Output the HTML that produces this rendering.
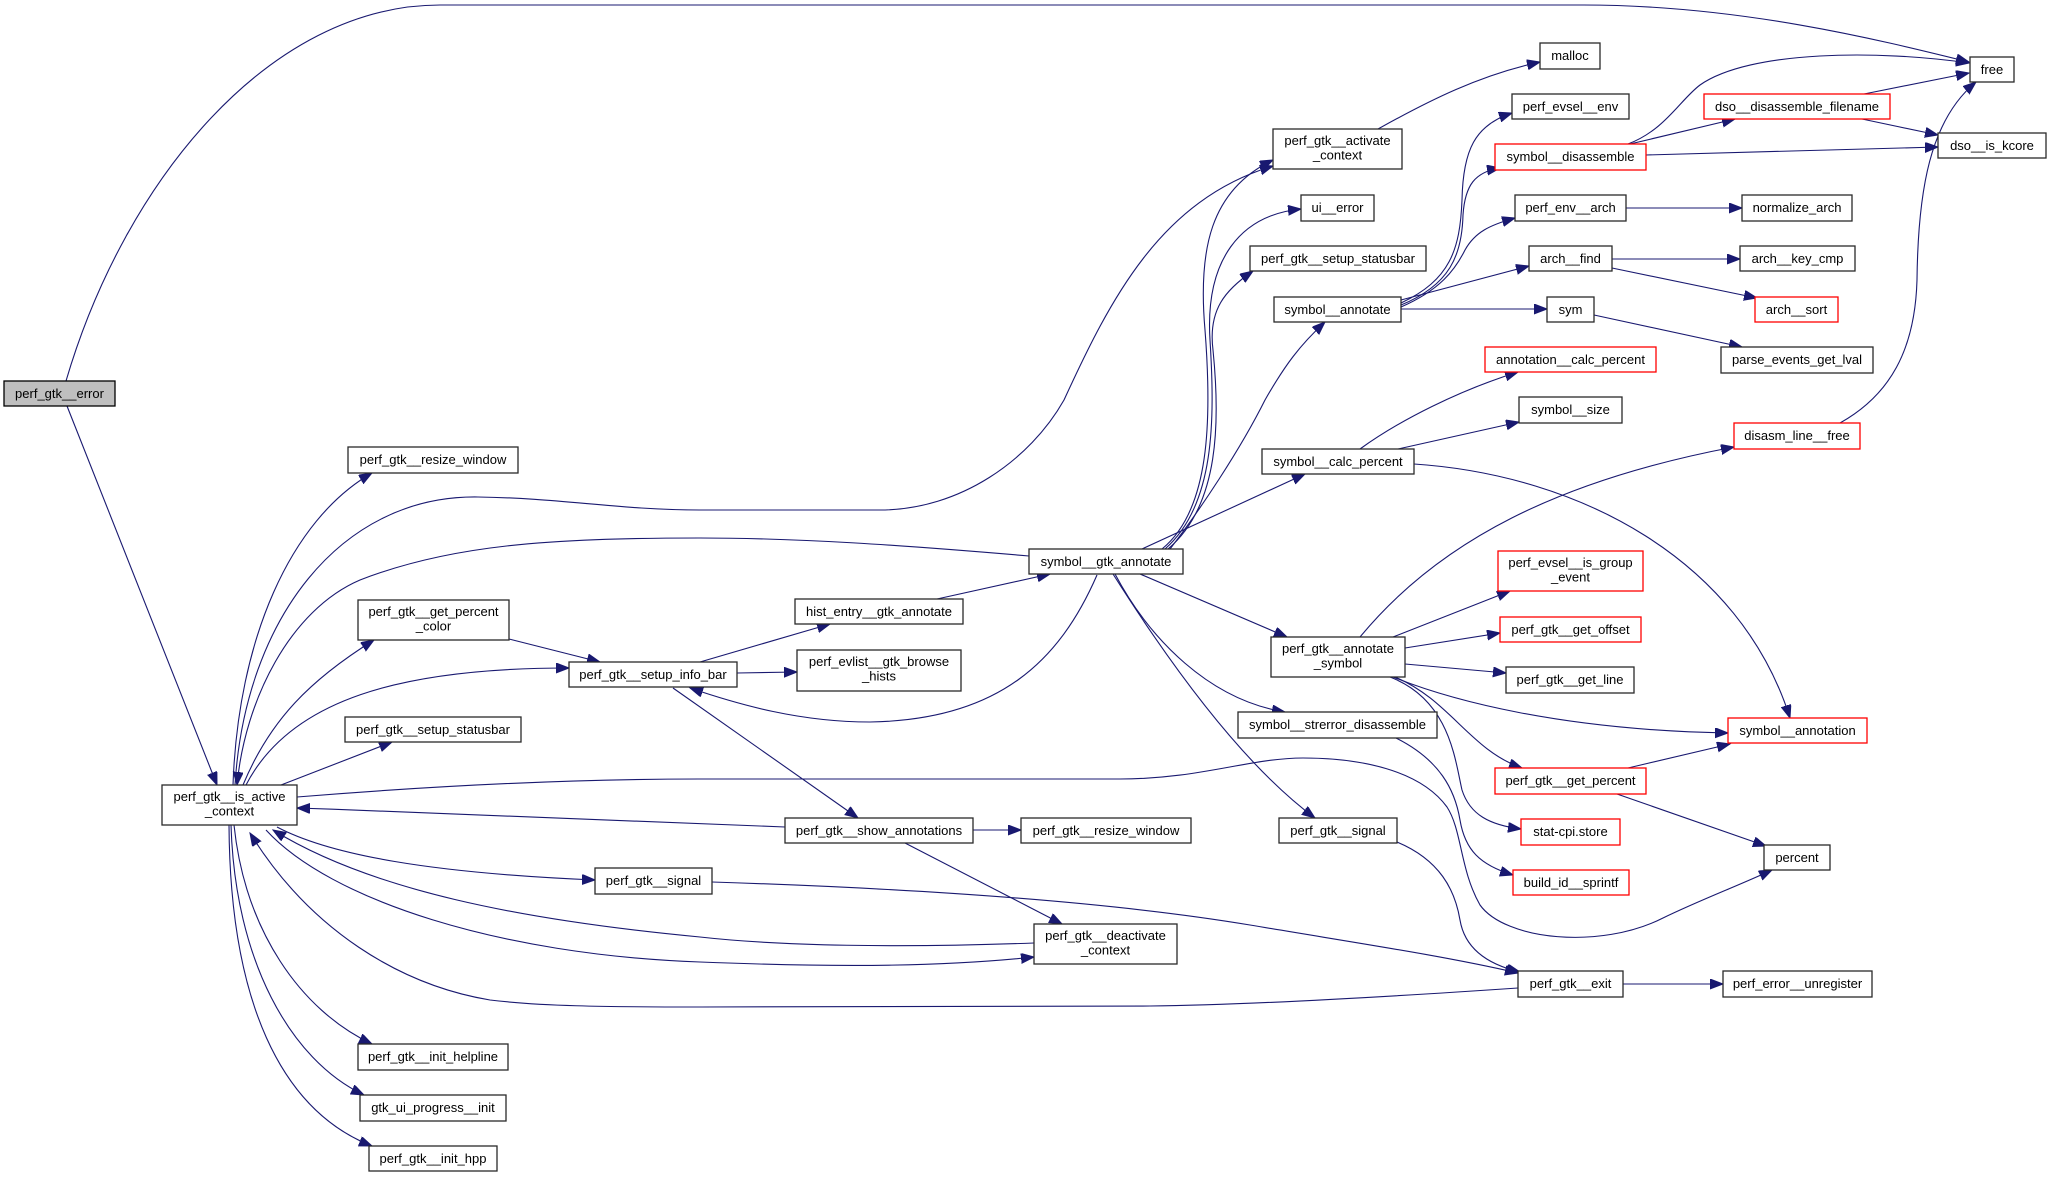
<!DOCTYPE html>
<html><head><meta charset="utf-8"><style>
html,body{margin:0;padding:0;background:#fff;}
svg{display:block;}
text{font-family:"Liberation Sans",Helvetica,Arial,sans-serif;font-size:13px;fill:#000;text-anchor:middle;}
.e{fill:none;stroke:#191970;stroke-width:1.1;marker-end:url(#a);}
.n{fill:#fff;stroke:#2a2a2a;stroke-width:1.3;}
.r{fill:#fff;stroke:#ff0000;stroke-width:1.3;}
</style></head><body>
<svg width="2051" height="1177" viewBox="0 0 2051 1177" xmlns="http://www.w3.org/2000/svg">
<defs>
<marker id="a" markerWidth="15" markerHeight="12" refX="13" refY="5" orient="auto" markerUnits="userSpaceOnUse">
<path d="M0,0 L13,5 L0,10 z" fill="#191970" stroke="#191970" stroke-width="1"/>
</marker>
</defs>
<g>
<path class="e" d="M66,381 C125,180 270,5 440,5 L1583,5 C1740,5 1880,40 1969,62"/>
<path class="e" d="M67,406 L217,785"/>
<path class="e" d="M233,785 C238,640 290,520 372,473"/>
<path class="e" d="M235,785 C245,620 340,495 478,497 C560,498 620,510 700,510 L880,510 C960,510 1030,460 1064,400 C1110,300 1160,200 1273,166"/>
<path class="e" d="M1029,556 C900,545 800,538 700,538 C550,538 450,545 360,580 C290,610 245,700 237,785"/>
<path class="e" d="M243,785 C270,720 310,680 374,640"/>
<path class="e" d="M246,785 C290,700 400,668 569,668"/>
<path class="e" d="M281,785 L392,742"/>
<path class="e" d="M297,797 C420,787 560,779 700,779 L1120,779 C1200,779 1250,758 1303,758 C1360,758 1420,770 1447,807 C1462,830 1460,870 1480,905 C1505,940 1600,950 1663,918 C1700,900 1740,885 1772,870"/>
<path class="e" d="M785,827 C600,820 450,813 297,808"/>
<path class="e" d="M277,827 C330,855 430,873 595,880"/>
<path class="e" d="M1034,943 C900,948 780,946 700,937 C520,920 370,890 273,830"/>
<path class="e" d="M266,830 C330,900 500,955 700,962 C850,968 950,966 1034,957"/>
<path class="e" d="M1518,988 C1400,996 1250,1005 1150,1006 L700,1007 C600,1007 540,1006 490,1000 C400,985 310,930 250,833"/>
<path class="e" d="M234,825 C245,930 300,1010 372,1044"/>
<path class="e" d="M231,825 C235,960 290,1060 364,1095"/>
<path class="e" d="M229,825 C230,1000 280,1110 372,1146"/>
<path class="e" d="M509,639 L600,662"/>
<path class="e" d="M700,662 L830,624"/>
<path class="e" d="M737,673 L797,672"/>
<path class="e" d="M673,688 L858,818"/>
<path class="e" d="M1097,575 C1060,660 1000,720 870,722 C800,722 740,705 690,688"/>
<path class="e" d="M937,599 L1050,574"/>
<path class="e" d="M973,830 L1021,830"/>
<path class="e" d="M905,843 L1062,924"/>
<path class="e" d="M1162,549 C1210,510 1212,420 1205,330 C1198,250 1210,190 1273,160"/>
<path class="e" d="M1165,549 C1215,505 1215,420 1210,340 C1205,260 1240,215 1301,209"/>
<path class="e" d="M1168,549 C1220,505 1220,420 1213,350 C1208,310 1225,290 1253,271"/>
<path class="e" d="M1170,549 C1200,510 1240,450 1265,400 C1285,365 1300,345 1325,322"/>
<path class="e" d="M1142,549 L1305,474"/>
<path class="e" d="M1140,574 L1287,637"/>
<path class="e" d="M1115,574 C1150,640 1210,700 1285,712"/>
<path class="e" d="M1113,574 C1180,680 1250,770 1315,818"/>
<path class="e" d="M1378,129 C1430,100 1480,75 1540,62"/>
<path class="e" d="M1401,303 C1450,280 1460,250 1462,200 C1463,150 1475,125 1512,113"/>
<path class="e" d="M1401,305 C1450,285 1462,255 1463,215 C1465,185 1475,172 1500,168"/>
<path class="e" d="M1401,307 C1440,290 1455,270 1465,250 C1475,232 1490,225 1515,218"/>
<path class="e" d="M1401,300 L1529,266"/>
<path class="e" d="M1401,309 L1547,309"/>
<path class="e" d="M1594,315 L1742,347"/>
<path class="e" d="M1626,208 L1742,208"/>
<path class="e" d="M1612,259 L1740,259"/>
<path class="e" d="M1612,268 L1757,298"/>
<path class="e" d="M1628,144 C1665,130 1680,100 1700,85 C1750,50 1880,50 1969,63"/>
<path class="e" d="M1630,144 L1735,119"/>
<path class="e" d="M1646,155 L1938,147"/>
<path class="e" d="M1864,94 L1969,73"/>
<path class="e" d="M1862,119 L1938,135"/>
<path class="e" d="M1840,423 C1890,395 1915,350 1917,280 C1918,190 1930,120 1976,82"/>
<path class="e" d="M1360,449 C1400,420 1460,390 1518,372"/>
<path class="e" d="M1398,449 L1519,422"/>
<path class="e" d="M1414,464 C1580,475 1740,560 1790,718"/>
<path class="e" d="M1360,637 C1440,540 1560,480 1734,447"/>
<path class="e" d="M1393,637 L1510,591"/>
<path class="e" d="M1405,648 L1500,633"/>
<path class="e" d="M1405,664 L1506,673"/>
<path class="e" d="M1393,677 C1450,700 1560,730 1728,733"/>
<path class="e" d="M1395,677 C1450,700 1470,750 1522,768"/>
<path class="e" d="M1390,677 C1450,700 1455,760 1462,790 C1470,815 1490,825 1521,829"/>
<path class="e" d="M1396,738 C1440,760 1455,790 1460,820 C1465,850 1480,865 1513,875"/>
<path class="e" d="M1628,768 L1730,744"/>
<path class="e" d="M1617,794 L1766,846"/>
<path class="e" d="M712,882 C900,888 1100,900 1250,925 C1350,942 1440,955 1518,973"/>
<path class="e" d="M1397,842 C1440,860 1455,890 1460,920 C1465,950 1490,965 1520,972"/>
<path class="e" d="M1623,984 L1723,984"/>
</g>
<g>
<rect x="4" y="381" width="111" height="25" fill="#bfbfbf" stroke="#000" stroke-width="1.3"/><text x="59.5" y="398">perf_gtk__error</text>
<rect class="n" x="162" y="785" width="135" height="40"/><text x="229.5" y="801">perf_gtk__is_active</text><text x="229.5" y="815.5">_context</text>
<rect class="n" x="348" y="447" width="170" height="26"/><text x="433" y="464">perf_gtk__resize_window</text>
<rect class="n" x="358" y="600" width="151" height="40"/><text x="433.5" y="616">perf_gtk__get_percent</text><text x="433.5" y="630.5">_color</text>
<rect class="n" x="569" y="662" width="168" height="25"/><text x="653" y="679">perf_gtk__setup_info_bar</text>
<rect class="n" x="345" y="717" width="176" height="25"/><text x="433" y="734">perf_gtk__setup_statusbar</text>
<rect class="n" x="595" y="868" width="117" height="26"/><text x="653.5" y="885">perf_gtk__signal</text>
<rect class="n" x="358" y="1044" width="150" height="26"/><text x="433" y="1061">perf_gtk__init_helpline</text>
<rect class="n" x="360" y="1095" width="146" height="26"/><text x="433" y="1112">gtk_ui_progress__init</text>
<rect class="n" x="369" y="1146" width="128" height="25"/><text x="433" y="1163">perf_gtk__init_hpp</text>
<rect class="n" x="795" y="599" width="168" height="25"/><text x="879" y="616">hist_entry__gtk_annotate</text>
<rect class="n" x="797" y="650" width="164" height="41"/><text x="879" y="666">perf_evlist__gtk_browse</text><text x="879" y="680.5">_hists</text>
<rect class="n" x="785" y="818" width="188" height="25"/><text x="879" y="835">perf_gtk__show_annotations</text>
<rect class="n" x="1021" y="818" width="170" height="25"/><text x="1106" y="835">perf_gtk__resize_window</text>
<rect class="n" x="1034" y="924" width="143" height="40"/><text x="1105.5" y="940">perf_gtk__deactivate</text><text x="1105.5" y="954.5">_context</text>
<rect class="n" x="1029" y="549" width="154" height="25"/><text x="1106" y="566">symbol__gtk_annotate</text>
<rect class="n" x="1273" y="129" width="129" height="40"/><text x="1337.5" y="145">perf_gtk__activate</text><text x="1337.5" y="159.5">_context</text>
<rect class="n" x="1301" y="195" width="73" height="26"/><text x="1337.5" y="212">ui__error</text>
<rect class="n" x="1250" y="246" width="176" height="25"/><text x="1338" y="263">perf_gtk__setup_statusbar</text>
<rect class="n" x="1274" y="297" width="127" height="25"/><text x="1337.5" y="314">symbol__annotate</text>
<rect class="n" x="1262" y="449" width="152" height="25"/><text x="1338" y="466">symbol__calc_percent</text>
<rect class="n" x="1271" y="637" width="134" height="40"/><text x="1338" y="653">perf_gtk__annotate</text><text x="1338" y="667.5">_symbol</text>
<rect class="n" x="1238" y="712" width="199" height="26"/><text x="1337.5" y="729">symbol__strerror_disassemble</text>
<rect class="n" x="1279" y="818" width="118" height="25"/><text x="1338" y="835">perf_gtk__signal</text>
<rect class="n" x="1540" y="43" width="60" height="26"/><text x="1570" y="60">malloc</text>
<rect class="n" x="1512" y="94" width="117" height="25"/><text x="1570.5" y="111">perf_evsel__env</text>
<rect class="r" x="1495" y="144" width="151" height="26"/><text x="1570.5" y="161">symbol__disassemble</text>
<rect class="n" x="1515" y="195" width="111" height="26"/><text x="1570.5" y="212">perf_env__arch</text>
<rect class="n" x="1529" y="246" width="83" height="25"/><text x="1570.5" y="263">arch__find</text>
<rect class="n" x="1547" y="297" width="47" height="25"/><text x="1570.5" y="314">sym</text>
<rect class="r" x="1485" y="347" width="171" height="25"/><text x="1570.5" y="364">annotation__calc_percent</text>
<rect class="n" x="1519" y="397" width="103" height="26"/><text x="1570.5" y="414">symbol__size</text>
<rect class="r" x="1498" y="551" width="145" height="40"/><text x="1570.5" y="567">perf_evsel__is_group</text><text x="1570.5" y="581.5">_event</text>
<rect class="r" x="1500" y="617" width="141" height="25"/><text x="1570.5" y="634">perf_gtk__get_offset</text>
<rect class="n" x="1506" y="667" width="128" height="26"/><text x="1570" y="684">perf_gtk__get_line</text>
<rect class="r" x="1495" y="768" width="151" height="26"/><text x="1570.5" y="785">perf_gtk__get_percent</text>
<rect class="r" x="1521" y="819" width="99" height="26"/><text x="1570.5" y="836">stat-cpi.store</text>
<rect class="r" x="1513" y="870" width="116" height="25"/><text x="1571" y="887">build_id__sprintf</text>
<rect class="n" x="1518" y="971" width="105" height="26"/><text x="1570.5" y="988">perf_gtk__exit</text>
<rect class="r" x="1704" y="94" width="186" height="25"/><text x="1797" y="111">dso__disassemble_filename</text>
<rect class="n" x="1742" y="195" width="110" height="26"/><text x="1797" y="212">normalize_arch</text>
<rect class="n" x="1740" y="246" width="115" height="25"/><text x="1797.5" y="263">arch__key_cmp</text>
<rect class="r" x="1755" y="297" width="83" height="25"/><text x="1796.5" y="314">arch__sort</text>
<rect class="n" x="1721" y="347" width="152" height="26"/><text x="1797" y="364">parse_events_get_lval</text>
<rect class="r" x="1734" y="423" width="126" height="26"/><text x="1797" y="440">disasm_line__free</text>
<rect class="r" x="1728" y="718" width="139" height="25"/><text x="1797.5" y="735">symbol__annotation</text>
<rect class="n" x="1764" y="845" width="66" height="25"/><text x="1797" y="862">percent</text>
<rect class="n" x="1723" y="971" width="149" height="26"/><text x="1797.5" y="988">perf_error__unregister</text>
<rect class="n" x="1970" y="57" width="44" height="25"/><text x="1992" y="74">free</text>
<rect class="n" x="1938" y="133" width="108" height="25"/><text x="1992" y="150">dso__is_kcore</text>
</g>
</svg>
</body></html>
